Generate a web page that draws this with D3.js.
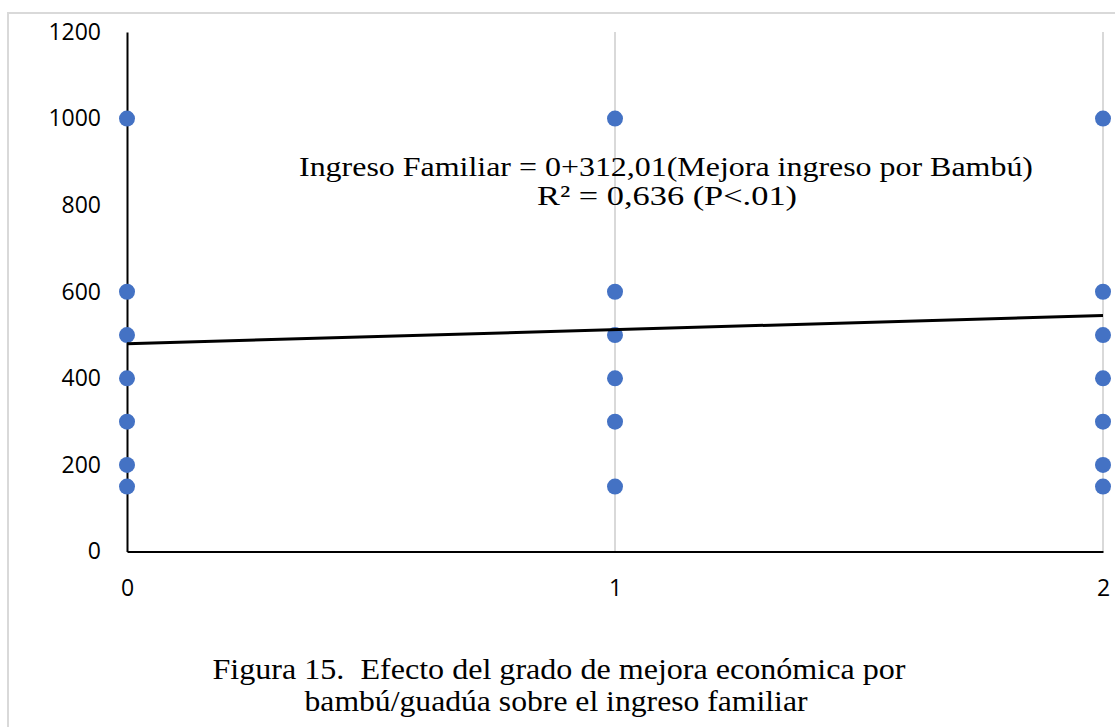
<!DOCTYPE html>
<html>
<head>
<meta charset="utf-8">
<script src="https://cdn.jsdelivr.net/npm/d3@7/dist/d3.min.js"></script>
<style>
  html, body { margin: 0; padding: 0; background: #fff; }
  svg { display: block; }
  text { white-space: pre; }
</style>
</head>
<body>
<svg id="chart" width="1115" height="727"></svg>
<script>
// ---- Data ----
const pointX = [0,0,0,0,0,0,0, 1,1,1,1,1,1, 2,2,2,2,2,2,2];
const pointY = [1000,600,500,400,300,200,150, 1000,600,500,400,300,150, 1000,600,500,400,300,200,150];
const trendX = [0, 2];
const trendY = [480, 545];
const xTicks = [0, 1, 2];
const yTicks = [0, 200, 400, 600, 800, 1000, 1200];
const equationLines = ["Ingreso Familiar = 0+312,01(Mejora ingreso por Bambú)", "R² = 0,636 (P<.01)"];
const captionLines = ["Figura 15.  Efecto del grado de mejora económica por", "bambú/guadúa sobre el ingreso familiar"];

(function () {
// ---- Layout ----
const svg = d3.select("#chart");
const W = 1115, H = 727;
const mLeft = 127, mRight = 1103, mTop = 32, mBottom = 551.5;

const x = d3.scaleLinear().domain([0, 2]).range([mLeft, mRight]);
const y = d3.scaleLinear().domain([0, 1200]).range([mBottom, mTop]);

// chart area border
svg.append("rect")
  .attr("x", 8).attr("y", 13).attr("width", W + 20).attr("height", H + 20)
  .attr("fill", "none").attr("stroke", "#d9d9d9").attr("stroke-width", 2);

// vertical gridlines
svg.append("g").selectAll("line")
  .data(xTicks.filter(d => d !== 0))
  .join("line")
  .attr("x1", d => x(d)).attr("x2", d => x(d))
  .attr("y1", y(1200)).attr("y2", y(0))
  .attr("stroke", "#d9d9d9").attr("stroke-width", 2);

// axes
const tickFont = "'Open Sans', 'Liberation Sans', sans-serif";
const yAxis = d3.axisLeft(y).tickValues(yTicks).tickSize(0).tickPadding(26).tickFormat(d3.format("d"));
const gy = svg.append("g").attr("transform", `translate(${mLeft},0)`).call(yAxis);
gy.select(".domain").attr("stroke", "#000").attr("stroke-width", 2);
gy.selectAll("text").attr("font-family", tickFont).attr("font-size", 23).attr("fill", "#000");

const xAxis = d3.axisBottom(x).tickValues(xTicks).tickSize(0).tickPadding(28).tickFormat(d3.format("d"));
const gx = svg.append("g").attr("transform", `translate(0,${mBottom})`).call(xAxis);
gx.select(".domain").attr("stroke", "#000").attr("stroke-width", 2);
gx.selectAll("text").attr("font-family", tickFont).attr("font-size", 23).attr("fill", "#000");

// points
svg.append("g").selectAll("circle")
  .data(pointX.map((d, i) => [d, pointY[i]]))
  .join("circle")
  .attr("cx", d => x(d[0])).attr("cy", d => y(d[1]))
  .attr("r", 8).attr("fill", "#4472C4");

// trendline
const line = d3.line().x(d => x(d[0])).y(d => y(d[1]));
svg.append("path")
  .datum(trendX.map((d, i) => [d, trendY[i]]))
  .attr("d", line)
  .attr("fill", "none").attr("stroke", "#000").attr("stroke-width", 3);

const serif = "'Liberation Serif', 'Times New Roman', Times, serif";

// equation text
const eqPos = [{cx: 666, by: 176, w: 734}, {cx: 667, by: 205, w: 260}];
svg.append("g").selectAll("text")
  .data(equationLines)
  .join("text")
  .attr("x", (d, i) => eqPos[i].cx).attr("y", (d, i) => eqPos[i].by)
  .attr("text-anchor", "middle")
  .attr("font-family", serif)
  .attr("font-size", 28).attr("fill", "#000")
  .attr("textLength", (d, i) => eqPos[i].w).attr("lengthAdjust", "spacingAndGlyphs")
  .text(d => d);

// caption
const capPos = [{cx: 559, by: 679, w: 693}, {cx: 556, by: 711, w: 503}];
svg.append("g").selectAll("text")
  .data(captionLines)
  .join("text")
  .attr("x", (d, i) => capPos[i].cx).attr("y", (d, i) => capPos[i].by)
  .attr("text-anchor", "middle")
  .attr("font-family", serif)
  .attr("font-size", 29).attr("fill", "#000")
  .attr("textLength", (d, i) => capPos[i].w).attr("lengthAdjust", "spacingAndGlyphs")
  .text(d => d);
})();
</script>
</body>
</html>
